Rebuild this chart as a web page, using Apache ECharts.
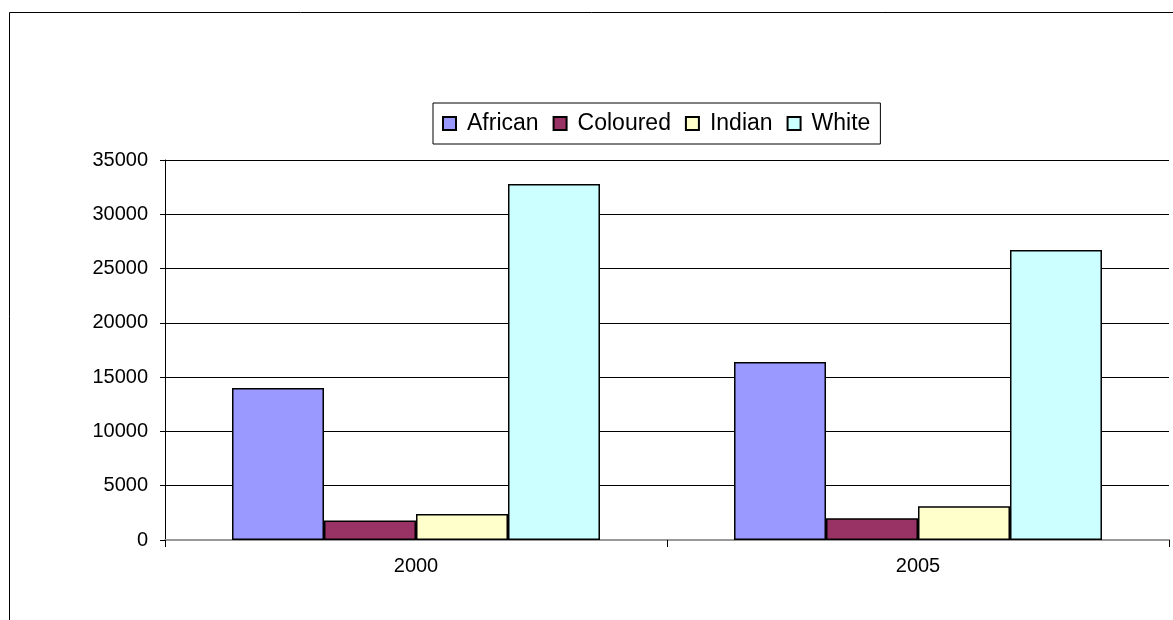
<!DOCTYPE html>
<html>
<head>
<meta charset="utf-8">
<script src="https://cdn.jsdelivr.net/npm/echarts@6/dist/echarts.min.js"></script>
<style>
html,body{margin:0;padding:0;background:#fff;}
#chart{width:1173px;height:620px;}
</style>
</head>
<body>
<div id="chart"></div>
<script>
const categories = ['2000', '2005'];
const seriesNames = ['African', 'Coloured', 'Indian', 'White'];
const african = [14000, 16400];
const coloured = [1800, 2000];
const indian = [2400, 3100];
const white = [32800, 26700];
const yTicks = [0, 5000, 10000, 15000, 20000, 25000, 30000, 35000];

const colors = ['#9999FF', '#993366', '#FFFFCC', '#CCFFFF'];
const values = [african, coloured, indian, white];

const chart = echarts.init(document.getElementById('chart'));
const font = 'Liberation Sans, Arial, sans-serif';
chart.setOption({
  animation: false,
  backgroundColor: '#fff',
  graphic: [{
    type: 'rect',
    shape: {x: 9.5, y: 12.5, width: 1300, height: 800},
    style: {fill: 'none', stroke: '#000', lineWidth: 1},
    silent: true, z: -1
  }],
  legend: {
    left: 433, top: 103,
    orient: 'horizontal',
    padding: [9, 10, 9, 9],
    itemGap: 14,
    itemWidth: 13, itemHeight: 13,
    borderColor: '#000', borderWidth: 1,
    textStyle: {fontFamily: font, fontSize: 23, color: '#000', padding: [0, 0, 0, 6]},
    icon: 'rect',
    data: seriesNames
  },
  grid: {left: 165, right: 4, top: 160, bottom: 80, containLabel: false},
  xAxis: {
    type: 'category',
    data: categories,
    axisLine: {lineStyle: {color: '#999', width: 2}},
    axisTick: {show: true, length: 7, lineStyle: {color: '#000'}},
    axisLabel: {fontFamily: font, fontSize: 20, color: '#000', margin: 16}
  },
  yAxis: {
    type: 'value',
    min: yTicks[0], max: yTicks[yTicks.length - 1], interval: 5000,
    axisLine: {show: true, lineStyle: {color: '#000'}},
    axisTick: {show: true, length: 5, lineStyle: {color: '#000'}},
    splitLine: {lineStyle: {color: '#000', width: 1}},
    axisLabel: {fontFamily: font, fontSize: 20, color: '#000', margin: 17,
      formatter: v => String(v)}
  },
  series: seriesNames.map((n, i) => ({
    name: n,
    type: 'bar',
    data: values[i],
    barGap: '0%',
    barCategoryGap: '26.7%',
    itemStyle: {color: colors[i], borderColor: '#000', borderWidth: 1.5}
  }))
});
</script>
</body>
</html>
